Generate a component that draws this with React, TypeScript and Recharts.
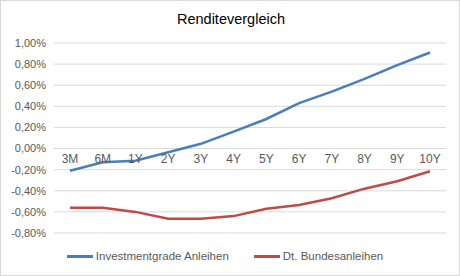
import React from 'react';
import {
  LineChart,
  Line,
  XAxis,
  YAxis,
  CartesianGrid,
  ReferenceDot,
  Legend,
} from 'recharts';

// Laufzeiten
const categories = ['3M', '6M', '1Y', '2Y', '3Y', '4Y', '5Y', '6Y', '7Y', '8Y', '9Y', '10Y'];

// Renditen in %
const investmentgrade = [-0.21, -0.13, -0.115, -0.035, 0.045, 0.16, 0.28, 0.43, 0.54, 0.66, 0.79, 0.91];
const bundesanleihen = [-0.56, -0.56, -0.6, -0.665, -0.665, -0.64, -0.57, -0.535, -0.47, -0.38, -0.31, -0.215];

const yTicks = [-0.8, -0.6, -0.4, -0.2, 0, 0.2, 0.4, 0.6, 0.8, 1.0];

const seriesNames = ['Investmentgrade Anleihen', 'Dt. Bundesanleihen'];

const FONT = '"Liberation Sans", Arial, sans-serif';

const data = categories.map((cat, i) => ({
  cat,
  ig: investmentgrade[i],
  bund: bundesanleihen[i],
}));

const formatPct = (v: number) => `${v.toFixed(2).replace('.', ',')}%`;

// Excel-artige Legende, Reihenfolge wie die Serien
const renderLegend = (props: any) => {
  const items = [...props.payload].sort(
    (a: any, b: any) => seriesNames.indexOf(a.value) - seriesNames.indexOf(b.value)
  );
  return (
    <div
      style={{
        display: 'flex',
        justifyContent: 'center',
        gap: 25,
        paddingTop: 17,
        fontFamily: FONT,
        fontSize: 11.5,
        color: '#595959',
      }}
    >
      {items.map((entry: any, index: number) => (
        <div key={`legend-${index}`} style={{ display: 'flex', alignItems: 'center' }}>
          <div style={{ width: 26, height: 3, backgroundColor: entry.color, marginRight: 3 }} />
          <span>{entry.value}</span>
        </div>
      ))}
    </div>
  );
};

const App: React.FC = () => {
  return (
    <div
      style={{
        position: 'absolute',
        left: 0,
        top: 0,
        width: 460,
        height: 276,
        boxSizing: 'border-box',
        border: '1px solid #d9d9d9',
        background: '#fff',
      }}
    >
      <div
        style={{
          position: 'absolute',
          top: 10,
          left: 0,
          width: 460,
          textAlign: 'center',
          fontFamily: FONT,
          fontSize: 14.5,
          color: '#000',
        }}
      >
        Renditevergleich
      </div>
      <div style={{ position: 'absolute', left: -1, top: -1 }}>
        <LineChart
          width={460}
          height={276}
          data={data}
          margin={{ top: 43, right: 14, bottom: 10, left: 4 }}
        >
          <CartesianGrid vertical={false} stroke="#d9d9d9" />
          <XAxis dataKey="cat" hide padding={{ left: 16, right: 16 }} />
          <YAxis
            domain={[-0.8, 1.0]}
            ticks={yTicks}
            tickFormatter={formatPct}
            axisLine={false}
            tickLine={false}
            width={50}
            tick={{ fontFamily: FONT, fontSize: 11, fill: '#595959' }}
            interval={0}
          />
          {categories.map((c) => (
            <ReferenceDot
              key={c}
              x={c}
              y={0}
              r={0}
              fill="none"
              stroke="none"
              label={{ value: c, position: 'bottom', offset: 6, fontFamily: FONT, fontSize: 12, fill: '#595959' }}
            />
          ))}
          <Line
            type="linear"
            dataKey="ig"
            name={seriesNames[0]}
            stroke="#4a7ebb"
            strokeWidth={2.5}
            dot={false}
            isAnimationActive={false}
          />
          <Line
            type="linear"
            dataKey="bund"
            name={seriesNames[1]}
            stroke="#be4b48"
            strokeWidth={2.5}
            dot={false}
            isAnimationActive={false}
          />
          <Legend verticalAlign="bottom" content={renderLegend} height={33} />
        </LineChart>
      </div>
    </div>
  );
};

export default App;
